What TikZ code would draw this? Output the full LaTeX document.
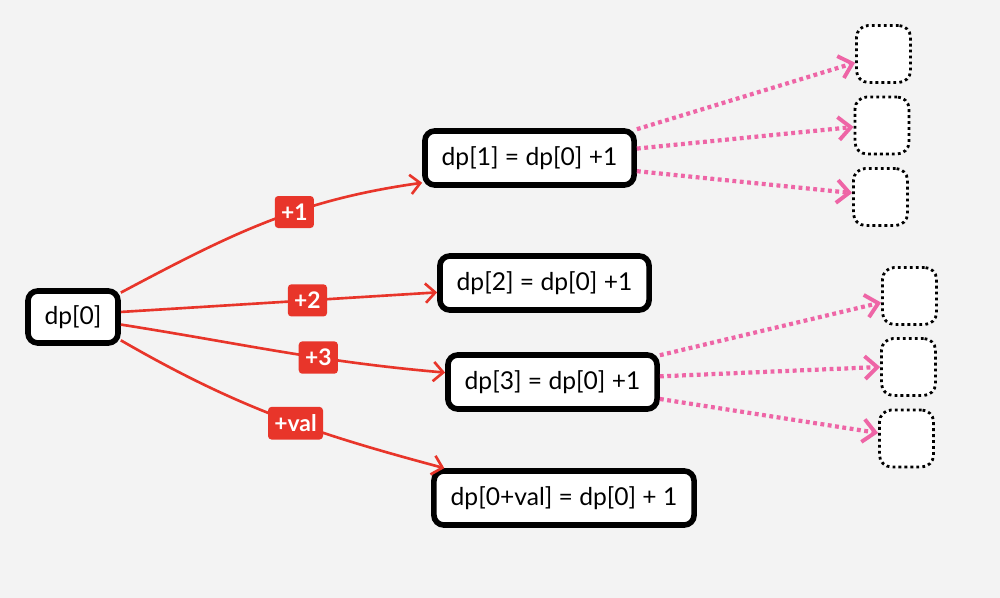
\documentclass[tikz,border=0pt]{standalone}
\usepackage{fontspec}
\setmainfont{Lato}
\usetikzlibrary{arrows.meta}
\definecolor{edgered}{HTML}{E8352A}
\definecolor{edgepink}{HTML}{EE65A6}
\definecolor{canvas}{HTML}{F3F3F3}
\tikzset{
  state/.style={draw,line width=1.6pt,rounded corners=2.8pt,fill=white,inner sep=0pt,minimum height=0.54cm,minimum width=2.09cm,font=\fontsize{7}{8}\selectfont},
  todo/.style={draw,line width=0.8pt,dash pattern=on 0.8pt off 0.9pt,rounded corners=3.4pt,fill=white,minimum width=0.54cm,minimum height=0.57cm,inner sep=0pt},
  step label/.style={fill=edgered,text=white,rounded corners=1pt,inner xsep=1.8pt,inner ysep=2.2pt,minimum height=0.3cm,minimum width=0.32cm,font=\fontsize{6.5}{7}\selectfont\bfseries},
  trans/.style={edgered,line width=0.75pt,-{Straight Barb[length=2.8pt,width=5.5pt,line width=0.75pt]}},
  next/.style={edgepink,line width=1.2pt,dash pattern=on 1.1pt off 1pt,-{Straight Barb[length=3.5pt,width=6.5pt,line width=1.1pt]}}
}
\def\wide{2.60cm}

\begin{document}
\begin{tikzpicture}[x=0.01cm,y=0.01cm]
  \fill[canvas] (0,0) rectangle (1000,598);
  \useasboundingbox (0,0) rectangle (1000,598);

  % States
  \node[state,minimum width=0.90cm,minimum height=0.52cm] (d0) at (73,281) {dp[0]};
  \node[state] (d1) at (529.5,440) {dp[1] = dp[0] +1};
  \node[state] (d2) at (544.5,315) {dp[2] = dp[0] +1};
  \node[state] (d3) at (552.5,216) {dp[3] = dp[0] +1};
  \node[state,minimum width=\wide] (dv) at (564,100) {dp[0+val] = dp[0] + 1};

  % Later states
  \node[todo] (b1) at (883.5,544) {};
  \node[todo] (b2) at (882,472.5) {};
  \node[todo] (b3) at (880.5,401) {};
  \node[todo] (b4) at (909.5,302) {};
  \node[todo] (b5) at (908.5,231) {};
  \node[todo] (b6) at (906.5,159.5) {};

  % Transitions
  \draw[trans] (d0.27) to[out=28,in=188] node[step label,pos=0.6] {+1} (d1.193);
  \draw[trans] (d0.6) -- node[step label,pos=0.59] {+2} (d2.185);
  \draw[trans] (d0.-9) to[out=-9,in=175] node[step label,pos=0.62] {+3} (d3.175);
  \draw[trans] (d0.-26) to[out=-30,in=165] node[step label,pos=0.56] {+val} (dv.166);

  % Further steps
  \draw[next] (d1.15) -- (b1.197);
  \draw[next] (d1.5) -- (b2.183);
  \draw[next] (d1.-7) -- (b3.172);
  \draw[next] (d3.14) -- (b4.193);
  \draw[next] (d3.3) -- (b5.180);
  \draw[next] (d3.-9) -- (b6.169);
\end{tikzpicture}
\end{document}
